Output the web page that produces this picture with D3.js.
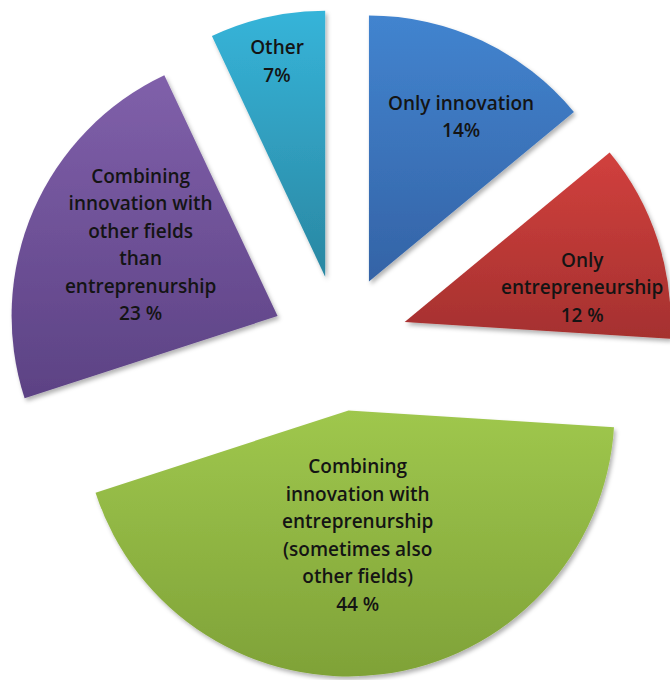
<!DOCTYPE html>
<html>
<head>
<meta charset="utf-8">
<script src="https://cdn.jsdelivr.net/npm/d3@7"></script>
<style>
  html, body { margin: 0; padding: 0; background: #fff; }
  svg { display: block; }
  .label { font-family: "Open Sans", Lato, sans-serif; font-size: 19px; font-weight: 600; fill: #141414; }
</style>
</head>
<body>
<div id="chart"></div>
<script>
// slice data, clockwise from 12 o'clock
const categories = [
  'Only innovation',
  'Only\nentrepreneurship',
  'Combining\ninnovation with\nentreprenurship\n(sometimes also\nother fields)',
  'Combining\ninnovation with\nother fields\nthan\nentreprenurship',
  'Other'
];
const values = [14, 12, 44, 23, 7];
const valueLabels = ['14%', '12 %', '44 %', '23 %', '7%'];

// top / bottom colours of each slice gradient
const colorsTop = ['#4284cf', '#d1403d', '#9fc74d', '#8060aa', '#36b4d9'];
const colorsBottom = ['#3463a6', '#a5312f', '#7fa238', '#5c4284', '#2a87a2'];

// label placement: fraction of the radius, and angle nudge in degrees
const labelRadius = [0.71, 0.68, 0.47, 0.58, 0.83];
const labelNudge = [4, 7, 3, 4, 0];

const width = 670;
const height = 680;
const cx = 340;
const cy = 343;
const radius = 266;
const explode = 68;
const lineHeight = 27.5;

const svg = d3.select('#chart')
  .append('svg')
  .attr('width', width)
  .attr('height', height);

const defs = svg.append('defs');

const shadow = defs.append('filter')
  .attr('id', 'shadow')
  .attr('x', '-10%').attr('y', '-10%')
  .attr('width', '130%').attr('height', '130%');
shadow.append('feDropShadow')
  .attr('dx', 2).attr('dy', 3)
  .attr('stdDeviation', 2)
  .attr('flood-color', '#000')
  .attr('flood-opacity', 0.3);

categories.forEach((c, i) => {
  const g = defs.append('linearGradient')
    .attr('id', 'grad' + i)
    .attr('x1', 0).attr('y1', 0)
    .attr('x2', 0).attr('y2', 1);
  g.append('stop').attr('offset', '0%').attr('stop-color', colorsTop[i]);
  g.append('stop').attr('offset', '100%').attr('stop-color', colorsBottom[i]);
});

const pie = d3.pie()
  .sort(null)
  .value(d => d.value);

const arc = d3.arc()
  .innerRadius(0)
  .outerRadius(radius);

const rows = categories.map((name, i) => ({ name, value: values[i], label: valueLabels[i], idx: i }));
const arcs = pie(rows);

const root = svg.append('g')
  .attr('transform', `translate(${cx},${cy})`);

const slices = root.selectAll('.slice')
  .data(arcs)
  .enter()
  .append('g')
  .attr('class', 'slice')
  .attr('transform', d => {
    const mid = (d.startAngle + d.endAngle) / 2;
    return `translate(${explode * Math.sin(mid)},${-explode * Math.cos(mid)})`;
  });

slices.append('path')
  .attr('d', arc)
  .attr('fill', d => `url(#grad${d.data.idx})`)
  .attr('filter', 'url(#shadow)');

slices.each(function (d) {
  const i = d.data.idx;
  const mid = (d.startAngle + d.endAngle) / 2 + labelNudge[i] * Math.PI / 180;
  const r = labelRadius[i] * radius;
  const lx = r * Math.sin(mid);
  const ly = -r * Math.cos(mid);
  const lines = d.data.name.split('\n').concat([d.data.label]);
  const text = d3.select(this).append('text')
    .attr('class', 'label')
    .attr('text-anchor', 'middle');
  lines.forEach((line, k) => {
    text.append('tspan')
      .attr('x', lx)
      .attr('y', ly + (k - (lines.length - 1) / 2) * lineHeight)
      .attr('dy', '0.35em')
      .text(line);
  });
});
</script>
</body>
</html>
